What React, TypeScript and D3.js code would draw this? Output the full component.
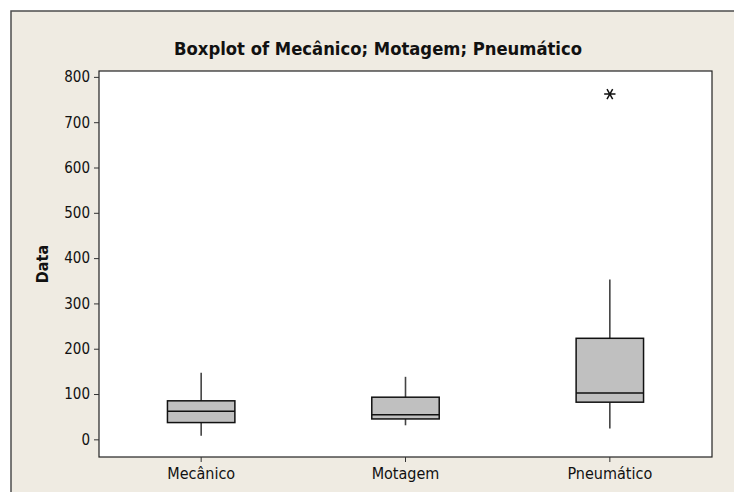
import * as d3 from "d3";
import React, { useRef, useEffect } from "react";

const categories = ["Mecânico", "Motagem", "Pneumático"];
const whiskerLow = [8, 31, 24];
const q1 = [37, 45, 82];
const median = [62, 54, 102];
const q3 = [85, 93, 223];
const whiskerHigh = [147, 138, 353];
const outliers = [[], [], [762]];
const yTicks = [0, 100, 200, 300, 400, 500, 600, 700, 800];

const W = 734;
const H = 492;
const font = "'DejaVu Sans Condensed', 'DejaVu Sans', sans-serif";

const App = () => {
  const gRef = useRef(null);
  const plot = { left: 99, right: 712, top: 71, bottom: 457 };

  useEffect(() => {
    const g = d3.select(gRef.current);
    g.selectAll("*").remove();

    const x = d3.scaleBand().domain(categories).range([plot.left, plot.right]).padding(0);
    const y = d3.scaleLinear().domain([-39, 813]).range([plot.bottom, plot.top]);
    const boxW = x.bandwidth() * 0.33;

    // frame
    g.append("rect")
      .attr("x", 11).attr("y", 11)
      .attr("width", W).attr("height", H)
      .attr("fill", "#EFEBE2")
      .attr("stroke", "#4d4d4d")
      .attr("stroke-width", 1.5);

    g.append("rect")
      .attr("x", plot.left).attr("y", plot.top)
      .attr("width", plot.right - plot.left).attr("height", plot.bottom - plot.top)
      .attr("fill", "#fff")
      .attr("stroke", "#222")
      .attr("stroke-width", 1.2);

    const yAxis = d3.axisLeft(y).tickValues(yTicks).tickSize(5).tickPadding(4);
    const ya = g.append("g").attr("transform", `translate(${plot.left},0)`).call(yAxis);
    ya.select(".domain").remove();
    ya.selectAll("line").attr("stroke", "#333");
    ya.selectAll("text").attr("font-family", font).attr("font-size", 15).attr("fill", "#111");

    const xAxis = d3.axisBottom(x).tickSize(5).tickPadding(6);
    const xa = g.append("g").attr("transform", `translate(0,${plot.bottom})`).call(xAxis);
    xa.select(".domain").remove();
    xa.selectAll("line").attr("stroke", "#333");
    xa.selectAll("text").attr("font-family", font).attr("font-size", 16).attr("fill", "#111");

    const boxes = g.selectAll(".box")
      .data(categories)
      .join("g")
      .attr("class", "box")
      .attr("transform", d => `translate(${x(d) + x.bandwidth() / 2},0)`);

    boxes.append("line")
      .attr("x1", 0).attr("x2", 0)
      .attr("y1", (d, i) => y(whiskerHigh[i])).attr("y2", (d, i) => y(q3[i]))
      .attr("stroke", "#444").attr("stroke-width", 1.6);
    boxes.append("line")
      .attr("x1", 0).attr("x2", 0)
      .attr("y1", (d, i) => y(q1[i])).attr("y2", (d, i) => y(whiskerLow[i]))
      .attr("stroke", "#444").attr("stroke-width", 1.6);
    boxes.append("rect")
      .attr("x", -boxW / 2).attr("width", boxW)
      .attr("y", (d, i) => y(q3[i]))
      .attr("height", (d, i) => y(q1[i]) - y(q3[i]))
      .attr("fill", "#C0C0C0").attr("stroke", "#111").attr("stroke-width", 1.5);
    boxes.append("line")
      .attr("x1", -boxW / 2).attr("x2", boxW / 2)
      .attr("y1", (d, i) => y(median[i])).attr("y2", (d, i) => y(median[i]))
      .attr("stroke", "#111").attr("stroke-width", 1.5);

    boxes.selectAll(".out")
      .data((d, i) => outliers[i])
      .join("path")
      .attr("class", "out")
      .attr("d", d3.symbol(d3.symbolAsterisk, 90))
      .attr("transform", v => `translate(0,${y(v)}) rotate(90)`)
      .attr("fill", "none").attr("stroke", "#111").attr("stroke-width", 1.5);

    g.append("text")
      .attr("x", 378).attr("y", 55)
      .attr("text-anchor", "middle")
      .attr("font-family", font).attr("font-weight", "bold").attr("font-size", 18)
      .attr("textLength", 408).attr("lengthAdjust", "spacingAndGlyphs")
      .attr("fill", "#111")
      .text("Boxplot of Mecânico; Motagem; Pneumático");

    g.append("text")
      .attr("transform", `translate(48,${(plot.top + plot.bottom) / 2}) rotate(-90)`)
      .attr("text-anchor", "middle")
      .attr("font-family", font).attr("font-weight", "bold").attr("font-size", 16)
      .attr("fill", "#111")
      .text("Data");
  }, []);

  return (
    <div style={{ position: "fixed", left: 0, top: 0 }}>
      <svg width={W} height={H} style={{ display: "block" }}>
        <g ref={gRef} />
      </svg>
    </div>
  );
};

export default App;
